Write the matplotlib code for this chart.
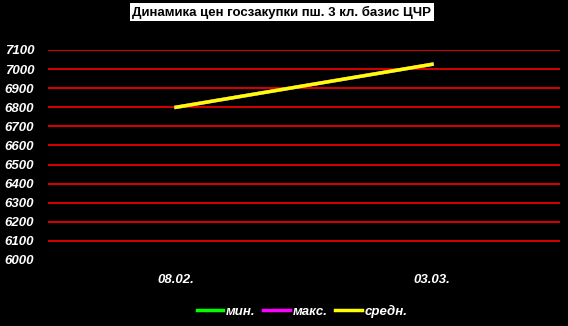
import matplotlib
matplotlib.use("Agg")
import matplotlib.pyplot as plt

dates = ["08.02.", "03.03."]
price_min = [6800, 7025]
price_max = [6800, 7025]
price_avg = [6800, 7025]
yticks = list(range(6000, 7101, 100))

plt.rcParams['font.family'] = ['Liberation Sans', 'DejaVu Sans']

fig = plt.figure(figsize=(5.68, 3.26), dpi=100, facecolor="black")
ax = fig.add_axes([48 / 568, 1 - 260 / 326, 512 / 568, 210 / 326], facecolor="black")

x = [0.5, 1.5]
ax.plot(x, price_min, color="#00ff00", lw=2.5, label="мин.")
ax.plot(x, price_max, color="#ff00ff", lw=2.5, label="макс.")
ax.plot(x, price_avg, color="#ffff00", lw=2.5, label="средн.")

ax.set_xlim(0, 2)
ax.set_ylim(6000, 7100)
ax.set_yticks(yticks)
ax.set_xticks(x)
ax.set_xticklabels(dates)
for y in yticks[1:]:
    ax.axhline(y, color="red", lw=1.2, zorder=0)

for s in ax.spines.values():
    s.set_visible(False)
ax.tick_params(length=0, colors="white", labelsize=9.5)
ax.tick_params(axis="y", pad=10)
ax.tick_params(axis="x", pad=10)
for lbl in ax.get_xticklabels() + ax.get_yticklabels():
    lbl.set_fontweight("bold")
    lbl.set_fontstyle("italic")

leg = fig.legend(loc="center", bbox_to_anchor=(302 / 568, 1 - 311 / 326), ncol=3,
                 frameon=False, handlelength=2.0, columnspacing=0.6, handletextpad=0.2,
                 prop={"weight": "bold", "style": "italic", "size": 9.5})
for t in leg.get_texts():
    t.set_color("white")

fig.text(282 / 568, 1 - 12 / 326, "Динамика цен госзакупки пш. 3 кл. базис ЦЧР",
         ha="center", va="center", fontsize=9.5, fontweight="bold", color="black",
         bbox=dict(facecolor="white", edgecolor="none", pad=1.5))

fig.savefig("out.png", dpi=100, facecolor="black")
